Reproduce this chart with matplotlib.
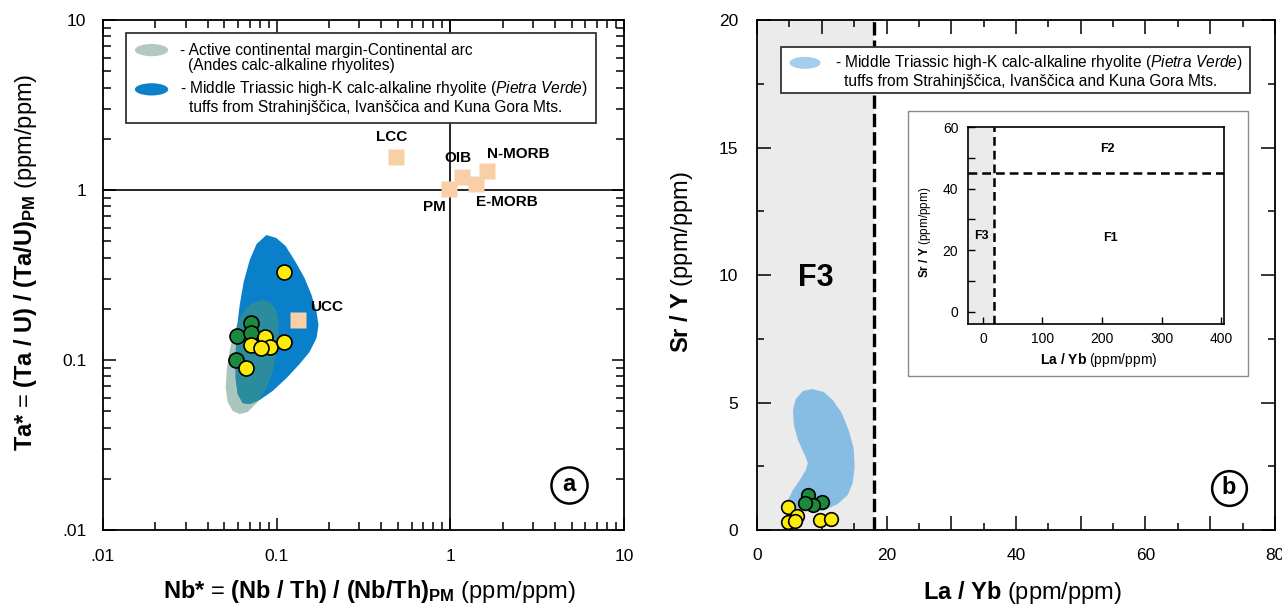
import matplotlib
matplotlib.use("Agg")
import matplotlib.pyplot as plt
from matplotlib import font_manager
from matplotlib.patches import Polygon, Ellipse, Rectangle
from matplotlib.ticker import FixedLocator, FixedFormatter, LogLocator, NullFormatter, MultipleLocator

# ---- data: panel a (Nb* vs Ta*) ----
green_a_nb = [0.0716, 0.0591, 0.0716, 0.0580]
green_a_ta = [0.1657, 0.1390, 0.1436, 0.1000]
yellow_a_nb = [0.111, 0.0853, 0.0716, 0.0912, 0.0817, 0.111, 0.0670]
yellow_a_ta = [0.328, 0.137, 0.1225, 0.1197, 0.1172, 0.128, 0.0894]

ref_names = ["LCC", "OIB", "N-MORB", "PM", "E-MORB", "UCC"]
ref_nb = [0.488, 1.17, 1.63, 0.98, 1.40, 0.132]
ref_ta = [1.57, 1.20, 1.30, 1.02, 1.08, 0.172]

# field outlines (data units)
pv_field_nb = [0.0873, 0.0996, 0.1126, 0.1286, 0.1448, 0.1589, 0.1698, 0.1743,
               0.1698, 0.1548, 0.1356, 0.1141, 0.0948, 0.0799, 0.0700, 0.0638,
               0.0597, 0.0581, 0.0581, 0.0589, 0.0613, 0.0646, 0.0700, 0.0767]
pv_field_ta = [0.5436, 0.5220, 0.4686, 0.3772, 0.3038, 0.2412, 0.1916, 0.1606,
               0.1347, 0.1115, 0.0947, 0.0783, 0.0657, 0.0582, 0.0551, 0.0558,
               0.0631, 0.0783, 0.1070, 0.1502, 0.2107, 0.2876, 0.3876, 0.4813]
andes_nb = [0.0820, 0.0912, 0.0987, 0.1027, 0.1027, 0.1000, 0.0948, 0.0876, 0.0778,
            0.0681, 0.0613, 0.0559, 0.0523, 0.0509, 0.0516, 0.0537, 0.0574, 0.0630, 0.0709]
andes_ta = [0.2254, 0.2194, 0.1995, 0.1719, 0.1403, 0.1115, 0.0850, 0.0684, 0.0566,
            0.0494, 0.0481, 0.0501, 0.0566, 0.0684, 0.0873, 0.1145, 0.1502, 0.1865, 0.2135]

# ---- data: panel b (La/Yb vs Sr/Y) ----
green_b_layb = [7.85, 10.0, 8.62, 7.38]
green_b_sry = [1.37, 1.10, 0.98, 1.06]
yellow_b_layb = [4.77, 6.15, 4.77, 5.85, 9.69, 11.38]
yellow_b_sry = [0.90, 0.55, 0.31, 0.35, 0.39, 0.43]

pv_b_layb = [8.46, 10.31, 11.69, 13.08, 14.15, 14.92, 15.08, 14.77, 14.0, 12.46, 10.46,
             8.46, 6.62, 5.23, 4.77, 5.54, 6.62, 7.54, 7.85, 7.38, 6.31, 5.69, 5.54, 6.0, 7.08]
pv_b_sry = [5.53, 5.41, 5.10, 4.59, 3.92, 3.22, 2.47, 1.84, 1.37, 1.02, 0.78,
            0.71, 0.78, 0.98, 1.18, 1.57, 1.96, 2.35, 2.63, 2.94, 3.53, 4.12, 4.71, 5.14, 5.45]

layb_limit = 18
sry_limit = 45

names = set(f.name for f in font_manager.fontManager.ttflist)
NARROW = 'Liberation Sans Narrow' if 'Liberation Sans Narrow' in names else 'Liberation Sans'
LEG_SIZE = 12 if NARROW == 'Liberation Sans Narrow' else 11.2

plt.rcParams['font.family'] = ['Liberation Sans', 'DejaVu Sans']
plt.rcParams['mathtext.fontset'] = 'custom'
plt.rcParams['mathtext.rm'] = 'Liberation Sans'
plt.rcParams['mathtext.bf'] = 'Liberation Sans:bold'
plt.rcParams['mathtext.it'] = NARROW + ':italic'

YELLOW = '#ffeb0a'
GREEN = '#1c8a3e'
PEACH = '#f9cfa8'
BLUE = '#0a7fca'
GREY = '#aac4be'
TEAL = '#2a8c9c'
LBLUE = '#88bde3'

fig = plt.figure(figsize=(12.82, 6.06), dpi=100)
ax1 = fig.add_axes([0.0803, 0.1254, 0.4064, 0.8416])
ax2 = fig.add_axes([0.5905, 0.1254, 0.4040, 0.8416])
axi = fig.add_axes([0.7551, 0.4653, 0.1997, 0.3251])
axi.set_zorder(3)

# ---------------- panel a ----------------
ax1.set_xscale('log')
ax1.set_yscale('log')
ax1.set_xlim(0.01, 10)
ax1.set_ylim(0.01, 10)
ax1.axhline(1, color='black', lw=1.2, zorder=1)
ax1.axvline(1, color='black', lw=1.2, zorder=1)

grey_patch = Polygon(list(zip(andes_nb, andes_ta)), closed=True, fc=GREY, ec='none', zorder=2)
blue_patch = Polygon(list(zip(pv_field_nb, pv_field_ta)), closed=True, fc=BLUE, ec='none', zorder=3)
teal_patch = Polygon(list(zip(andes_nb, andes_ta)), closed=True, fc=TEAL, ec='none', zorder=4)
ax1.add_patch(grey_patch)
ax1.add_patch(blue_patch)
ax1.add_patch(teal_patch)
teal_patch.set_clip_path(blue_patch)

ax1.plot(ref_nb, ref_ta, 's', ms=11.5, mfc=PEACH, mec='none', zorder=5)
offsets = {"LCC": (-3, 14, 'center'), "OIB": (-3, 13, 'center'), "N-MORB": (0, 12, 'left'),
           "PM": (-2, -13, 'right'), "E-MORB": (0, -13, 'left'), "UCC": (9, 9, 'left')}
for n, x, y in zip(ref_names, ref_nb, ref_ta):
    dx, dy, ha = offsets[n]
    ax1.annotate(n, (x, y), xytext=(dx, dy), textcoords='offset points', ha=ha, va='center',
                 fontsize=11, fontweight='bold', zorder=6)

ax1.plot(green_a_nb, green_a_ta, 'o', ms=10.8, mfc=GREEN, mec='black', mew=1.2, zorder=7)
ax1.plot(yellow_a_nb, yellow_a_ta, 'o', ms=10.8, mfc=YELLOW, mec='black', mew=1.2, zorder=8)

for axis in (ax1.xaxis, ax1.yaxis):
    axis.set_major_locator(FixedLocator([0.01, 0.1, 1, 10]))
    axis.set_minor_locator(LogLocator(base=10, subs=range(2, 10)))
    axis.set_minor_formatter(NullFormatter())
ax1.xaxis.set_major_formatter(FixedFormatter(['.01', '0.1', '1', '10']))
ax1.yaxis.set_major_formatter(FixedFormatter(['.01', '0.1', '1', '10']))
ax1.tick_params(which='both', direction='in', top=True, right=True, width=1.1, labelsize=12.5)
ax1.tick_params(which='major', length=9)
ax1.tick_params(which='minor', length=5.5)
ax1.tick_params(axis='x', pad=14)
ax1.tick_params(axis='y', pad=12)
for s in ax1.spines.values():
    s.set_linewidth(1.3)

ax1.set_xlabel(r"$\mathbf{Nb{*}}$ = $\mathbf{(Nb\ /\ Th)\ /\ (Nb/Th)_{PM}}$ (ppm/ppm)", fontsize=17)
ax1.set_ylabel(r"$\mathbf{Ta{*}}$ = $\mathbf{(Ta\ /\ U)\ /\ (Ta/U)_{PM}}$ (ppm/ppm)", fontsize=17)
ax1.xaxis.set_label_coords(0.512, -0.095)
ax1.yaxis.set_label_coords(-0.123, 0.525)

# legend a
ax1.add_patch(Rectangle((0.0441, 0.798), 0.9022, 0.1765, transform=ax1.transAxes,
                        fc='white', ec='#333333', lw=1.3, zorder=9))
ax1.add_patch(Ellipse((0.0933, 0.941), 0.064, 0.024, transform=ax1.transAxes, fc='#b2c9c3', ec='none', zorder=10))
ax1.add_patch(Ellipse((0.0933, 0.864), 0.064, 0.024, transform=ax1.transAxes, fc=BLUE, ec='none', zorder=10))
lg_kw = dict(transform=ax1.transAxes, fontsize=LEG_SIZE, family=NARROW, va='center', zorder=10)
ax1.text(0.148, 0.941, "- Active continental margin-Continental arc", **lg_kw)
ax1.text(0.164, 0.910, "(Andes calc-alkaline rhyolites)", **lg_kw)
ax1.text(0.148, 0.865, r"- Middle Triassic high-K calc-alkaline rhyolite ($\mathit{Pietra\ Verde}$)", **lg_kw)
ax1.text(0.165, 0.828, "tuffs from Strahinjščica, Ivanščica and Kuna Gora Mts.", **lg_kw)

ax1.plot([0.894], [0.089], 'o', ms=26, mfc='white', mec='black', mew=1.8, transform=ax1.transAxes, zorder=9)
ax1.text(0.894, 0.089, "a", transform=ax1.transAxes, ha='center', va='center', fontsize=17,
         fontweight='bold', zorder=10)

# ---------------- panel b ----------------
ax2.set_xlim(0, 80)
ax2.set_ylim(0, 20)
ax2.axvspan(0, layb_limit, color='#ebebeb', lw=0, zorder=0)
ax2.axvline(layb_limit, color='black', lw=2.4, dashes=(4, 1.5), zorder=2)
ax2.add_patch(Polygon(list(zip(pv_b_layb, pv_b_sry)), closed=True, fc=LBLUE, ec='none', zorder=1))
ax2.plot(green_b_layb, green_b_sry, 'o', ms=9.8, mfc=GREEN, mec='black', mew=1.2, zorder=5)
ax2.plot(yellow_b_layb, yellow_b_sry, 'o', ms=9.8, mfc=YELLOW, mec='black', mew=1.2, zorder=6)
ax2.text(9.1, 9.9, "F3", ha='center', va='center', fontsize=22, fontweight='bold')

ax2.xaxis.set_major_locator(MultipleLocator(10))
ax2.xaxis.set_minor_locator(MultipleLocator(5))
ax2.xaxis.set_major_formatter(matplotlib.ticker.FuncFormatter(lambda v, p: "%d" % v if v % 20 == 0 else ""))
ax2.yaxis.set_major_locator(MultipleLocator(5))
ax2.yaxis.set_minor_locator(MultipleLocator(2.5))
ax2.tick_params(which='both', direction='in', top=True, right=True, width=1.1, labelsize=12.5)
ax2.tick_params(which='major', length=10)
ax2.tick_params(which='minor', length=5)
ax2.tick_params(axis='x', pad=13)
ax2.tick_params(axis='y', pad=13.5)
for s in ax2.spines.values():
    s.set_linewidth(1.3)
ax2.set_xlabel(r"$\mathbf{La\ /\ Yb}$ (ppm/ppm)", fontsize=17)
ax2.set_ylabel(r"$\mathbf{Sr\ /\ Y}$ (ppm/ppm)", fontsize=17)
ax2.xaxis.set_label_coords(0.513, -0.097)
ax2.yaxis.set_label_coords(-0.12, 0.525)

# legend b
ax2.add_patch(Rectangle((0.0456, 0.856), 0.9061, 0.0917, transform=ax2.transAxes,
                        fc='white', ec='#333333', lw=1.3, zorder=9))
ax2.add_patch(Ellipse((0.0927, 0.916), 0.06, 0.0235, transform=ax2.transAxes, fc='#a6cdea', ec='none', zorder=10))
lg_kw2 = dict(transform=ax2.transAxes, fontsize=LEG_SIZE, family=NARROW, va='center', zorder=10)
ax2.text(0.150, 0.916, r"- Middle Triassic high-K calc-alkaline rhyolite ($\mathit{Pietra\ Verde}$)", **lg_kw2)
ax2.text(0.167, 0.880, "tuffs from Strahinjščica, Ivanščica and Kuna Gora Mts.", **lg_kw2)

ax2.plot([0.911], [0.083], 'o', ms=25, mfc='white', mec='black', mew=1.8, transform=ax2.transAxes, zorder=9)
ax2.text(0.911, 0.083, "b", transform=ax2.transAxes, ha='center', va='center', fontsize=17,
         fontweight='bold', zorder=10)

# inset frame
fig.add_artist(Rectangle((0.7083, 0.3795), 0.2652, 0.4373, transform=fig.transFigure,
                         fc='white', ec='#8a8a8a', lw=1.0, zorder=2))

axi.set_xlim(-25, 405)
axi.set_ylim(-4, 60)
axi.axvspan(-25, layb_limit, color='#ebebeb', lw=0, zorder=0)
axi.axvline(layb_limit, color='black', lw=1.8, dashes=(3.5, 2), zorder=2)
axi.axhline(sry_limit, color='black', lw=1.8, dashes=(3.5, 2), zorder=2)
axi.text(209, 52.9, "F2", ha='center', va='center', fontsize=9, fontweight='bold')
axi.text(215, 24, "F1", ha='center', va='center', fontsize=9, fontweight='bold')
axi.text(-3, 24.6, "F3", ha='center', va='center', fontsize=9, fontweight='bold')
axi.xaxis.set_major_locator(MultipleLocator(100))
axi.yaxis.set_major_locator(MultipleLocator(20))
axi.yaxis.set_minor_locator(MultipleLocator(10))
axi.tick_params(which='both', direction='in', length=5, width=1.0, labelsize=10)
axi.tick_params(axis='x', pad=6)
axi.tick_params(axis='y', pad=7)
for s in axi.spines.values():
    s.set_linewidth(1.2)
axi.set_xlabel(r"$\mathbf{La\ /\ Yb}$ (ppm/ppm)", fontsize=10)
axi.set_ylabel(r"$\mathbf{Sr\ /\ Y}$ (ppm/ppm)", fontsize=8.5)
axi.xaxis.set_label_coords(0.512, -0.137)
axi.yaxis.set_label_coords(-0.137, 0.467)

fig.savefig("out.png", dpi=100)
